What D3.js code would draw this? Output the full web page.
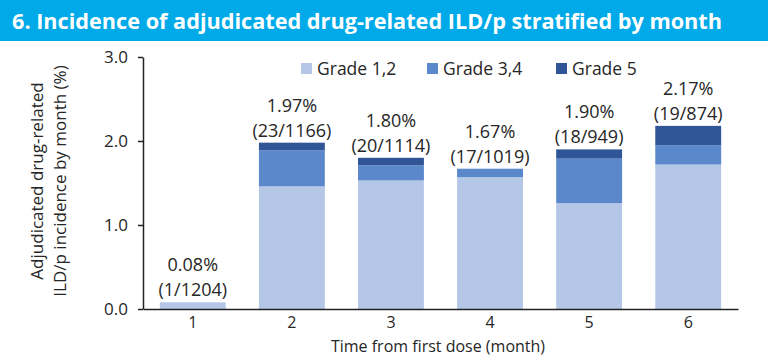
<!DOCTYPE html>
<html>
<head>
<meta charset="utf-8">
<script src="https://cdn.jsdelivr.net/npm/d3@7"></script>
<style>
  html, body { margin: 0; padding: 0; background: #fff; }
  svg { display: block; font-family: "Open Sans", sans-serif; }
</style>
</head>
<body>
<svg id="chart" width="768" height="357"></svg>
<script>
// ---- data ----
const months = ["1", "2", "3", "4", "5", "6"];
const grade12 = [0.08, 1.46, 1.53, 1.57, 1.26, 1.72];
const grade34 = [0.00, 0.43, 0.18, 0.10, 0.53, 0.23];
const grade5  = [0.00, 0.09, 0.09, 0.00, 0.11, 0.23];
const totalLabels = ["0.08%", "1.97%", "1.80%", "1.67%", "1.90%", "2.17%"];
const countLabels = ["(1/1204)", "(23/1166)", "(20/1114)", "(17/1019)", "(18/949)", "(19/874)"];
const seriesNames = ["Grade 1,2", "Grade 3,4", "Grade 5"];
const seriesColors = ["#B4C7E7", "#5B87CB", "#2F5597"];
const yTicks = [0, 1, 2, 3];
const titleText = "6. Incidence of adjudicated drug-related ILD/p stratified by month";
const yTitleLines = ["Adjudicated drug-related", "ILD/p incidence by month (%)"];
const xTitle = "Time from first dose (month)";

const svg = d3.select("#chart");
const textColor = "#262626";

// banner
svg.append("rect").attr("x", 0).attr("y", 0).attr("width", 768).attr("height", 41)
  .attr("fill", "#00A9E8");
svg.append("text").attr("x", 12).attr("y", 29)
  .attr("fill", "#fff").attr("font-weight", "bold").attr("font-size", 22)
  .attr("textLength", 710).attr("lengthAdjust", "spacingAndGlyphs")
  .text(titleText);

// scales
const x = d3.scaleBand().domain(months).range([143, 738]).paddingInner(0.335).paddingOuter(0.17);
const y = d3.scaleLinear().domain([0, 3]).range([309, 57]);

// stacked data
const rows = months.map((m, i) => ({ month: m, g12: grade12[i], g34: grade34[i], g5: grade5[i] }));
const stack = d3.stack().keys(["g12", "g34", "g5"]);
const layers = stack(rows);

svg.append("g").selectAll("g").data(layers).join("g")
  .attr("fill", (d, i) => seriesColors[i])
  .selectAll("rect").data(d => d).join("rect")
  .attr("x", d => x(d.data.month))
  .attr("width", x.bandwidth())
  .attr("y", d => y(d[1]))
  .attr("height", d => Math.max(0, y(d[0]) - y(d[1])));

// y axis
const yAxis = svg.append("g").attr("transform", "translate(143,0)")
  .call(d3.axisLeft(y).tickValues(yTicks).tickFormat(d3.format(".1f")).tickSize(5).tickSizeOuter(0));
yAxis.select(".domain").attr("stroke", "#222").attr("stroke-width", 1.5);
yAxis.selectAll(".tick line").attr("stroke", "#222").attr("stroke-width", 1.5);
yAxis.selectAll(".tick text").attr("font-size", 17).attr("fill", textColor)
  .attr("font-family", "Open Sans").attr("x", -15);

// x axis
const xAxis = svg.append("g").attr("transform", "translate(0,309)")
  .call(d3.axisBottom(x).tickSize(0).tickSizeOuter(0));
xAxis.select(".domain").attr("stroke", "#222").attr("stroke-width", 1.5);
xAxis.selectAll(".tick text").attr("font-size", 16).attr("fill", textColor)
  .attr("font-family", "Open Sans").attr("dy", "0").attr("y", 19);

// bar labels
const totals = rows.map(r => r.g12 + r.g34 + r.g5);
const lbl = svg.append("g").attr("font-size", 18).attr("fill", textColor).attr("text-anchor", "middle");
lbl.selectAll("text.pct").data(months).join("text").attr("class", "pct")
  .attr("x", d => x(d) + x.bandwidth() / 2)
  .attr("y", (d, i) => y(totals[i]) - 31)
  .text((d, i) => totalLabels[i]);
lbl.selectAll("text.cnt").data(months).join("text").attr("class", "cnt")
  .attr("x", d => x(d) + x.bandwidth() / 2)
  .attr("y", (d, i) => y(totals[i]) - 6)
  .text((d, i) => countLabels[i]);

// legend
const legendX = [301, 427, 556];
const leg = svg.append("g");
seriesNames.forEach((n, i) => {
  leg.append("rect").attr("x", legendX[i]).attr("y", 63).attr("width", 11).attr("height", 11)
    .attr("fill", seriesColors[i]);
  leg.append("text").attr("x", legendX[i] + 16).attr("y", 74.5).attr("font-size", 17.5)
    .attr("fill", textColor).text(n);
});

// y title
const yt = svg.append("text").attr("transform", "translate(0,181) rotate(-90)")
  .attr("text-anchor", "middle").attr("font-size", 17).attr("fill", textColor);
yt.append("tspan").attr("x", 0).attr("y", 43).text(yTitleLines[0]);
yt.append("tspan").attr("x", 0).attr("y", 66).text(yTitleLines[1]);

// x title
svg.append("text").attr("x", 438).attr("y", 352).attr("text-anchor", "middle")
  .attr("font-size", 16).attr("fill", textColor).text(xTitle);
</script>
</body>
</html>
